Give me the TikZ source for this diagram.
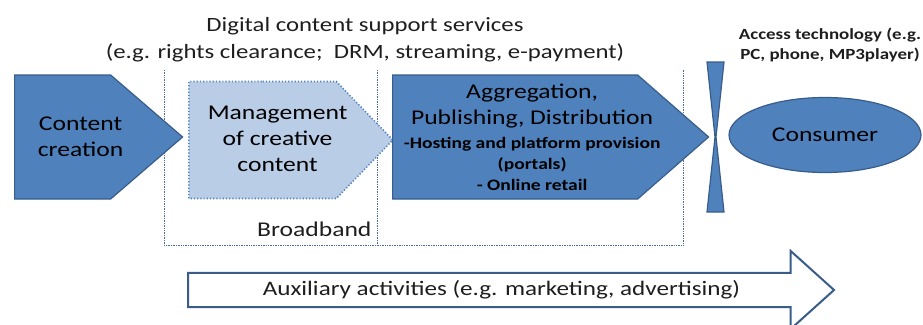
\documentclass[tikz,border=0pt]{standalone}
\usepackage{fontspec}
\setmainfont{Carlito}[FakeStretch=1.22]
\usetikzlibrary{shapes.arrows,shapes.symbols,shapes.geometric,positioning}
\definecolor{vcfill}{HTML}{4F81BD}
\definecolor{vcline}{HTML}{385D8A}
\definecolor{vclight}{HTML}{BACDE6}
\definecolor{vcguide}{HTML}{4E6A98}
\definecolor{vctext}{HTML}{1E1E1E}
\tikzset{
  stage/.style={signal, signal to=east, draw=vcline, fill=vcfill, line width=1.2pt, inner sep=0pt},
  softstage/.style={stage, fill=vclight, draw=vcfill, dotted, line width=1.6pt},
  stagetxt/.style={align=center, text=black, inner sep=0pt, font=\fontsize{21}{26}\selectfont},
  guide/.style={draw=vcguide, densely dotted, line width=0.7pt},
  txt/.style={align=center, text=vctext, font=\fontsize{21}{27}\selectfont},
  smalltxt/.style={align=center, text=vctext, font=\bfseries\fontsize{15.5}{20}\selectfont},
}
\newcommand{\subline}[1]{{\bfseries\fontsize{16}{21}\selectfont #1}}
\begin{document}
\begin{tikzpicture}[x=1pt, y=-1pt]
  \useasboundingbox (0,0) rectangle (923,324);

  % support services region
  \draw[guide] (164,70) -- (164,245) -- (683,245) -- (683,70);
  \draw[guide] (377,70) -- (377,245);
  \node[txt, font=\fontsize{20.3}{27}\selectfont] (services) at (365,39.5) {Digital content support services\\(e.g. rights clearance;\ \ DRM, streaming, e-payment)};
  \node[txt, anchor=east] (broadband) at (375,229) {Broadband};

  % value chain stages
  \node[stage, anchor=west, minimum width=168, minimum height=124, signal pointer angle=81.5] (create) at (14,137) {};
  \node[stagetxt] (createtxt) at ([xshift=18pt]create.center) {Content\\creation};
  \node[softstage, anchor=west, minimum width=204, minimum height=117, signal pointer angle=92] (manage) at (188,140) {};
  \node[stagetxt] (managetxt) at ([xshift=15pt,yshift=1pt]manage.center) {Management\\of creative\\content};
  \node[stage, anchor=west, minimum width=316, minimum height=124, signal pointer angle=82.3] (aggr) at (392,137) {};
  \node[stagetxt] (aggrtxt) at ([xshift=17pt]aggr.center) {Aggregation,\\Publishing, Distribution\\[-2pt]\subline{-Hosting and platform provision}\\[-5pt]\subline{(portals)}\\[-5pt]\subline{- Online retail}};

  % access bottleneck and consumer
  \draw[fill=vcfill, draw=vcline, line width=1.2pt] (707,62) -- (724,62) -- (716,137) -- (724,212) -- (707,212) -- (715,137) -- cycle;
  \node[smalltxt] (access) at (830,45) {Access technology (e.g.\\PC, phone, MP3player)};
  \node[ellipse, draw=vcline, fill=vcfill, line width=1.2pt, minimum width=192, minimum height=75, font=\fontsize{21}{26}\selectfont] (consumer) at (825,135) {Consumer};

  % auxiliary activities
  \node[single arrow, draw=vcline, line width=2pt, fill=white, minimum height=646, minimum width=78, single arrow head extend=20, single arrow tip angle=84, inner xsep=0pt, inner ysep=5.5pt, anchor=west, txt, font=\fontsize{20.6}{27}\selectfont] (aux) at (187,290) {Auxiliary activities (e.g. marketing, advertising)};
\end{tikzpicture}
\end{document}
